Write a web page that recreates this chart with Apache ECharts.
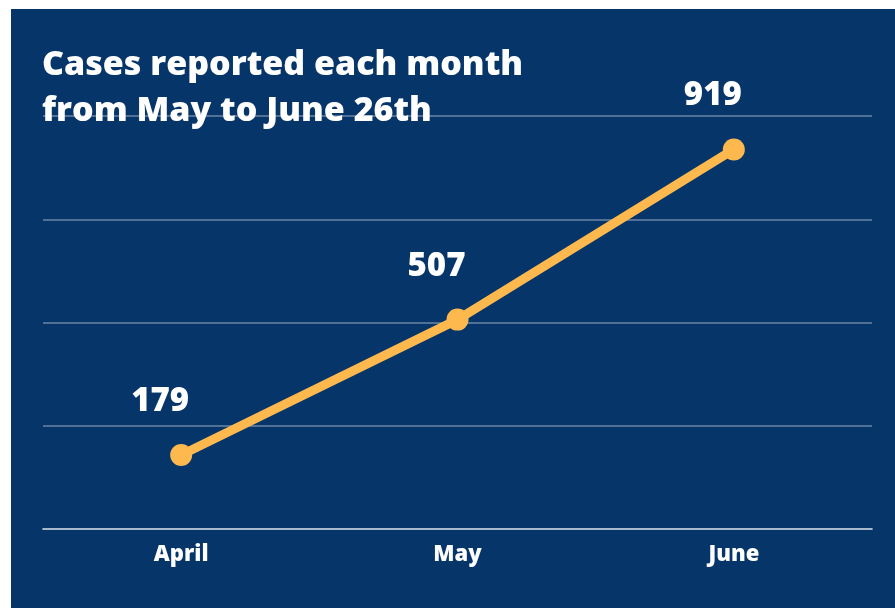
<!DOCTYPE html>
<html>
<head>
<meta charset="utf-8">
<script src="https://cdn.jsdelivr.net/npm/echarts@6/dist/echarts.min.js"></script>
<style>
html,body{margin:0;padding:0;background:#fff;width:895px;height:608px;overflow:hidden;}
#chart{position:absolute;left:11px;top:9px;width:884px;height:599px;}
</style>
</head>
<body>
<div id="chart"></div>
<script>
var categories = ['April', 'May', 'June'];
var cases = [179, 507, 919];
var titleLines = ['Cases reported each month', 'from May to June 26th'];

var chart = echarts.init(document.getElementById('chart'));
chart.setOption({
  backgroundColor: '#063569',
  animation: false,
  title: {
    text: titleLines.join('\n'),
    left: 26,
    top: 28,
    textStyle: {
      color: '#ffffff',
      fontFamily: 'Open Sans',
      fontWeight: 800,
      fontSize: 34,
      lineHeight: 46
    }
  },
  grid: { left: 32, right: 23, top: 107, bottom: 79 },
  xAxis: {
    type: 'category',
    data: categories,
    boundaryGap: true,
    axisLine: { lineStyle: { color: 'rgba(255,255,255,0.5)', width: 2 } },
    axisTick: { show: false },
    axisLabel: {
      color: '#ffffff',
      fontFamily: 'Open Sans',
      fontWeight: 800,
      fontSize: 22,
      margin: 15
    }
  },
  yAxis: {
    type: 'value',
    min: 0,
    max: 1000,
    interval: 250,
    axisLabel: { show: false },
    axisLine: { show: false },
    axisTick: { show: false },
    splitLine: { lineStyle: { color: 'rgba(255,255,255,0.3)', width: 2 } }
  },
  series: [{
    type: 'line',
    data: cases,
    symbol: 'circle',
    symbolSize: 22,
    lineStyle: { color: '#FDB94E', width: 9 },
    itemStyle: { color: '#FDB94E' },
    label: {
      show: true,
      position: 'top',
      distance: 26,
      offset: [-21, 0],
      color: '#ffffff',
      fontFamily: 'Open Sans',
      fontWeight: 800,
      fontSize: 33
    }
  }]
});
</script>
</body>
</html>
